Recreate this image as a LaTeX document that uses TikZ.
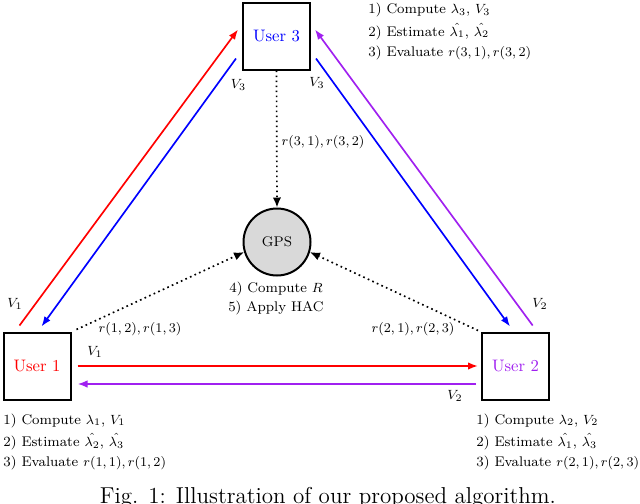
\documentclass[tikz,border=0pt]{standalone}
\usetikzlibrary{arrows.meta}
\definecolor{purp}{RGB}{160,32,240}
\newcommand{\smallfont}{\fontsize{8.4pt}{10pt}\selectfont}
\begin{document}
\begin{tikzpicture}[x=0.6pt,y=-0.6pt,
  usernode/.style={draw, line width=1.2pt, minimum size=40.2pt, inner sep=0pt, font=\normalsize},
  gpsnode/.style={circle, draw, line width=1.2pt, fill=gray!30, minimum size=40.2pt, inner sep=0pt, font=\smallfont},
  msg/.style={line width=1pt, -{Latex[length=6pt,width=4.5pt]}},
  rep/.style={dotted, line width=1pt, -{Latex[length=6pt,width=5pt]}},
  lbl/.style={font=\smallfont, inner sep=0pt},
  txt/.style={font=\smallfont, anchor=west, inner sep=0pt}]
\useasboundingbox (0,0) rectangle (640,503);

% nodes
\node[usernode, text=blue] (u3) at (276.5,36) {User 3};
\node[usernode, text=red] (u1) at (37,366) {User 1};
\node[usernode, text=purp] (u2) at (515.5,366) {User 2};
\node[gpsnode] (gps) at (277,242) {GPS};

% diagonal messages
\draw[msg, red]  ([shift={(17,-6)}]u1.north west) -- ([shift={(-4,-6.5)}]u3.west);
\draw[msg, blue] ([shift={(-6,22.5)}]u3.west) -- ([shift={(39,-5)}]u1.north west);
\draw[msg, blue] ([shift={(5,22.5)}]u3.east) -- ([shift={(29,-5)}]u2.north west);
\draw[msg, purp] ([shift={(51.7,-6)}]u2.north west) -- ([shift={(4,-6.5)}]u3.east);
% horizontal messages
\draw[msg, red]  ([shift={(6,0)}]u1.east) -- ([shift={(-3,0)}]u2.west);
\draw[msg, purp] ([shift={(-5,18)}]u2.west) -- ([shift={(6,18)}]u1.east);

% reports to GPS
\draw[rep] (u3.south) -- (gps.north);
\draw[rep] ([shift={(5,-2)}]u1.north east) -- (gps.197);
\draw[rep] ([shift={(-3,-1)}]u2.north west) -- (gps.343);

% connector labels
\node[lbl] (lv1a) at (15,304) {$V_1$};
\node[lbl] (lv3a) at (238.5,85) {$V_3$};
\node[lbl] (lv3b) at (317,83) {$V_3$};
\node[lbl] (lv2a) at (540,304) {$V_2$};
\node[lbl] (lv1b) at (95,352) {$V_1$};
\node[lbl] (lv2b) at (455,396) {$V_2$};
\node[lbl] (lr1) at (140,329) {$r(1,2), r(1,3)$};
\node[lbl] (lr2) at (413,329) {$r(2,1), r(2,3)$};
\node[lbl] (lr3) at (323,142) {$r(3,1), r(3,2)$};

% GPS steps
\node[lbl] (g4) at (276,289) {4) Compute $R$};
\node[lbl] (g5) at (276,308) {5) Apply HAC};

% user 3 steps
\node[txt] (t3a) at (368,10) {1) Compute $\lambda_3$, $V_3$};
\node[txt] (t3b) at (368,31.5) {2) Estimate $\hat{\lambda_1}$, $\hat{\lambda_2}$};
\node[txt] (t3c) at (368,53) {3) Evaluate $r(3,1), r(3,2)$};
% user 1 steps
\node[txt] (t1a) at (3,420.5) {1) Compute $\lambda_1$, $V_1$};
\node[txt] (t1b) at (3,441.5) {2) Estimate $\hat{\lambda_2}$, $\hat{\lambda_3}$};
\node[txt] (t1c) at (3,463) {3) Evaluate $r(1,1), r(1,2)$};
% user 2 steps
\node[txt] (t2a) at (476,420.5) {1) Compute $\lambda_2$, $V_2$};
\node[txt] (t2b) at (476,441.5) {2) Estimate $\hat{\lambda_1}$, $\hat{\lambda_3}$};
\node[txt] (t2c) at (476,463) {3) Evaluate $r(2,1), r(2,3)$};

% caption (cut off by the page edge)
\node[anchor=base, inner sep=0pt, font=\fontsize{13.8pt}{16pt}\selectfont] (cap) at (328,503) {Fig. 1: Illustration of our proposed algorithm.};
\end{tikzpicture}
\end{document}
